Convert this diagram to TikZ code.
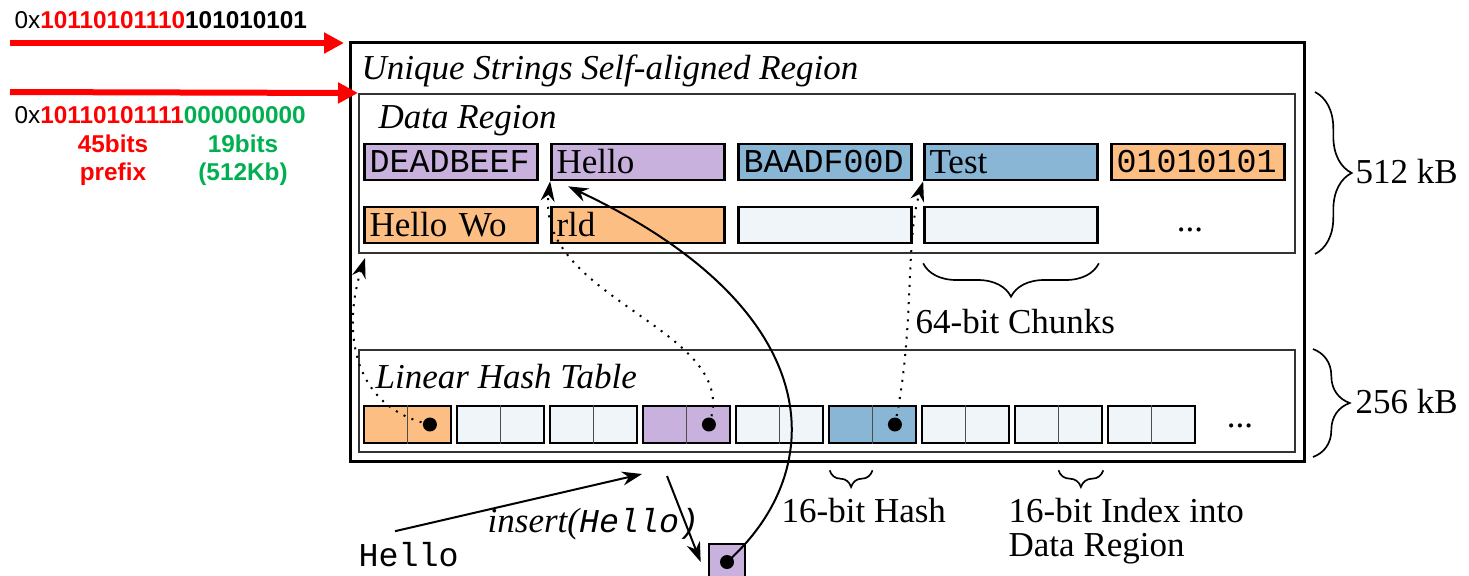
\documentclass[tikz,border=0pt]{standalone}
\usepackage{fontspec}
\setmainfont{Liberation Serif}
\setsansfont{Liberation Sans}
\setmonofont{Liberation Mono}
\usetikzlibrary{arrows.meta,calc,decorations.pathreplacing}

\definecolor{chunkpurple}{RGB}{200,177,220}
\definecolor{chunkblue}{RGB}{138,182,214}
\definecolor{chunkorange}{RGB}{253,190,131}
\definecolor{chunkempty}{RGB}{240,245,250}
\definecolor{prefixred}{RGB}{255,0,0}
\definecolor{offsetgreen}{RGB}{0,176,80}

\newcommand{\hexfont}{\fontsize{10}{12}\selectfont\ttfamily}

\tikzset{
    region/.style={draw=black!80, line width=0.6pt, anchor=north west, inner sep=0pt},
    chunk/.style={draw, line width=0.8pt, minimum height=10.8pt, text width=48.9pt,
        inner xsep=1.5pt, inner ysep=0pt, align=left},
    slot/.style={draw, line width=0.8pt, minimum width=26.1pt, minimum height=11.1pt,
        inner sep=0pt},
    ptr/.style={circle, fill=black, inner sep=0pt, minimum size=4.2pt},
    brc/.style={decorate, decoration={brace, amplitude=#1}, line width=0.5pt},
    ital/.style={font=\fontsize{10.5}{12}\selectfont\itshape, anchor=base west, inner sep=0pt},
    lbl/.style={anchor=base west, inner sep=0pt},
    addr/.style={font=\fontsize{7.3}{8.4}\selectfont\sffamily, inner sep=0pt},
    addrnote/.style={font=\fontsize{7.3}{8.4}\selectfont\sffamily\bfseries, inner sep=0pt, align=center},
}

\begin{document}
\begin{tikzpicture}[x=0.3pt, y=-0.3pt, font=\fontsize{10.5}{12}\selectfont,
        >={Stealth[length=6pt,width=4.2pt]}]
    \useasboundingbox (0,0) rectangle (1469,575);

    % regions
    \node[region, line width=0.9pt, draw=black, minimum width=286.2pt, minimum height=125.7pt] (usr) at (349,41) {};
    \node[region, minimum width=280.8pt, minimum height=47.7pt] (dr) at (358,93) {};
    \node[region, minimum width=280.8pt, minimum height=30.6pt] (lht) at (358,349) {};
    \node[ital] (usrtitle) at (361,79) {Unique Strings Self-aligned Region};
    \node[ital] (drtitle) at (378,128) {Data Region};
    \node[ital] (lhttitle) at (375,388) {Linear Hash Table};

    % data chunks
    \foreach \name/\cx/\cy/\col/\txt in {
        d1/451/162/chunkpurple/{\hexfont DEADBEEF},
        d2/638/162/chunkpurple/Hello,
        d3/825/162/chunkblue/{\hexfont BAADF00D},
        d4/1011/162/chunkblue/Test,
        d5/1198/162/chunkorange/{\hexfont 01010101},
        d6/451/225/chunkorange/Hello Wo,
        d7/638/225/chunkorange/rld,
        d8/825/225/chunkempty/{},
        d9/1011/225/chunkempty/{}}
        \node[chunk, fill=\col] (\name) at (\cx,\cy) {\txt};
    \node[anchor=base] (dmore) at (1190,231) {...};

    % hash slots
    \foreach \i/\col in {1/chunkorange,2/chunkempty,3/chunkempty,4/chunkpurple,5/chunkempty,
        6/chunkblue,7/chunkempty,8/chunkempty,9/chunkempty} {
        \node[slot, fill=\col] (h\i) at ({407.5+93*(\i-1)},424.5) {};
        \draw[line width=0.5pt, black!70] (h\i.north) -- (h\i.south);
    }
    \node[anchor=base] (hmore) at (1240,427) {...};
    \foreach \i in {1,4,6}
        \node[ptr] (p\i) at ($(h\i.center)!0.5!(h\i.east)$) {};

    % sizes
    \draw[brc=11pt] ($(dr.north east)+(19,-1)$) -- ($(dr.south east)+(19,0)$);
    \node[lbl] (drsize) at (1355,183) {512 kB};
    \draw[brc=11pt] ($(lht.north east)+(17,0)$) -- ($(lht.south east)+(17,4)$);
    \node[lbl] (lhtsize) at (1355,413) {256 kB};
    \draw[brc=10pt] ($(d9.south east)+(0,19)$) -- ($(d9.south west)+(0,19)$);
    \node[lbl] (chunklbl) at (915,333) {64-bit Chunks};
    \draw[brc=5pt] ($(h6.south)+(0,26)$) -- ($(h6.south west)+(2,26)$);
    \node[lbl] (hashlbl) at (781,522) {16-bit Hash};
    \draw[brc=5pt] ($(h8.south east)+(0,26)$) -- ($(h8.south)+(0,26)$);
    \node[anchor=north west, inner sep=0pt, align=left, font=\fontsize{10.5}{10}\selectfont] (idxlbl) at (1008,498) {16-bit Index into\\Data Region};

    % pointers into the data region
    \draw[->, dotted, line width=0.6pt] (p1.center) .. controls (345,405) and (345,320) .. ($(dr.south west)+(7,4)$);
    \draw[->, dotted, line width=0.6pt] (p4.center) .. controls (745,330) and (535,300) .. (d2.south west);
    \draw[->, dotted, line width=0.6pt] (p6.center) .. controls (915,330) and (905,240) .. (d4.south west);

    % insert
    \node[lbl, font=\hexfont] (hellostr) at (358,566) {Hello};
    \node[lbl] (inslbl) at (487,532) {\itshape insert(\hexfont\itshape Hello)};
    \node[draw, line width=0.8pt, fill=chunkpurple, minimum size=10.8pt, inner sep=0pt] (sb) at (727,562) {};
    \node[ptr] (p0) at (sb.center) {};
    \coordinate (insend) at (642,474);
    \coordinate (insout) at (667,476);
    \draw[->, line width=0.6pt] ($(hellostr.north west)+(37,-10)$) -- (insend);
    \draw[->, line width=0.6pt] (insout) -- ($(sb.west)+(-7,0)$);
    \draw[->, line width=0.6pt] (p0.center) .. controls (830,470) and (830,310) .. ($(d2.south west)+(18,5)$);

    % addresses
    \node[addr, anchor=base west] (addrin) at (14,28) {0x\textbf{\color{prefixred}10110101110}\textbf{101010101}};
    \node[addr, anchor=base west] (addrout) at (14,123) {0x\textbf{\color{prefixred}10110101111}\textbf{\color{offsetgreen}000000000}};
    \node[addrnote, text=prefixred] (prefixlbl) at (113,160) {45bits\\prefix};
    \node[addrnote, text=offsetgreen] (offsetlbl) at (243,160) {19bits\\(512Kb)};
    \coordinate (ra) at (10,43);
    \coordinate (rb) at (10,92);
    \draw[prefixred, line width=1.8pt, -{Triangle[length=6pt,width=6pt]}] (ra) -- ($(usr.north west)+(-5,2)$);
    \draw[prefixred, line width=1.8pt, -{Triangle[length=6pt,width=6pt]}] (rb) -- (dr.north west);
\end{tikzpicture}
\end{document}
